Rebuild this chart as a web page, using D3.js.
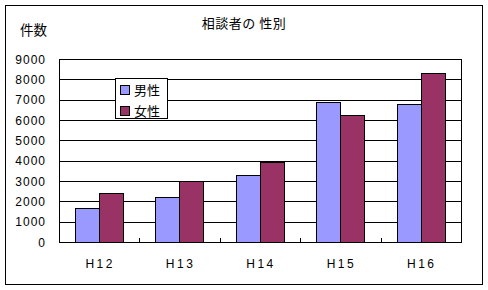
<!DOCTYPE html>
<html>
<head>
<meta charset="utf-8">
<script src="https://cdn.jsdelivr.net/npm/d3@7"></script>
<style>
  body { margin: 0; background: #fff; }
  text { font-family: "Liberation Sans", Arial, sans-serif; fill: #000; }
  .jp { font-family: "Noto Sans CJK JP", sans-serif; }
</style>
</head>
<body>
<div id="chart"></div>
<script>
// data
const years = ["H12", "H13", "H14", "H15", "H16"];
const male = [1650, 2200, 3280, 6870, 6770];
const female = [2400, 3000, 3950, 6230, 8300];
const seriesNames = ["男性", "女性"];
const colors = ["#9999ff", "#993366"];
const yTicks = [0, 1000, 2000, 3000, 4000, 5000, 6000, 7000, 8000, 9000];

const W = 488, H = 290;
const margin = {top: 59, right: 27, bottom: 48, left: 59};
const width = W - margin.left - margin.right;
const height = H - margin.top - margin.bottom;

const svg = d3.select("#chart").append("svg")
    .attr("width", W)
    .attr("height", H);

// outer frame
svg.append("rect")
    .attr("x", 5.5).attr("y", 5.5)
    .attr("width", 477).attr("height", 279)
    .attr("fill", "#fff")
    .attr("stroke", "#000");

const g = svg.append("g")
    .attr("transform", "translate(" + margin.left + "," + margin.top + ")");

// scales
const x = d3.scaleBand().domain(years).range([0, width]).padding(0);
const x1 = d3.scaleBand().domain(seriesNames).range([0, x.bandwidth()]).paddingInner(0).paddingOuter(0.667);
const y = d3.scaleLinear().domain([0, 9000]).range([height, 0]);

// gridlines
g.selectAll(".grid")
    .data(yTicks.slice(1))
    .enter().append("line")
    .attr("x1", 0).attr("x2", width)
    .attr("y1", d => Math.round(y(d)) + 0.5)
    .attr("y2", d => Math.round(y(d)) + 0.5)
    .attr("stroke", "#000");

// bars
const rows = years.map((yr, i) => ({year: yr, values: [male[i], female[i]]}));
const grp = g.selectAll(".grp")
    .data(rows)
    .enter().append("g")
    .attr("transform", d => "translate(" + Math.round(x(d.year)) + ",0)");

grp.selectAll("rect")
    .data(d => d.values.map((v, j) => ({name: seriesNames[j], value: v, j: j})))
    .enter().append("rect")
    .attr("x", d => Math.round(x1(d.name)) + 0.5)
    .attr("y", d => Math.round(y(d.value)) + 0.5)
    .attr("width", Math.round(x1.bandwidth()))
    .attr("height", d => Math.round(height - y(d.value)))
    .attr("fill", d => colors[d.j])
    .attr("stroke", "#000");

// plot frame
g.append("rect")
    .attr("x", 0.5).attr("y", 0.5)
    .attr("width", width).attr("height", height)
    .attr("fill", "none")
    .attr("stroke", "#000");

// x axis ticks (inside)
g.selectAll(".xtick")
    .data(years.slice(1))
    .enter().append("line")
    .attr("x1", d => Math.round(x(d)) + 0.5)
    .attr("x2", d => Math.round(x(d)) + 0.5)
    .attr("y1", height - 4)
    .attr("y2", height)
    .attr("stroke", "#000");

// x labels
g.selectAll(".xlabel")
    .data(years)
    .enter().append("text")
    .attr("x", d => x(d) + x.bandwidth() / 2 + 1)
    .attr("y", height + 26)
    .attr("text-anchor", "middle")
    .attr("font-size", 12)
    .attr("letter-spacing", 2.5)
    .text(d => d);

// y labels
g.selectAll(".ylabel")
    .data(yTicks)
    .enter().append("text")
    .attr("x", -13)
    .attr("y", d => y(d) + 4.5)
    .attr("text-anchor", "end")
    .attr("font-size", 12)
    .attr("letter-spacing", 1)
    .text(d => d);

// title
svg.append("text")
    .attr("class", "jp")
    .attr("x", 244)
    .attr("y", 28)
    .attr("text-anchor", "middle")
    .attr("font-size", 13)
    .attr("letter-spacing", 0.5)
    .text("相談者の 性別");

// y axis title
svg.append("text")
    .attr("class", "jp")
    .attr("x", 20)
    .attr("y", 35)
    .attr("font-size", 13.5)
    .text("件数");

// legend
const legend = svg.append("g").attr("transform", "translate(115,78)");
legend.append("rect")
    .attr("x", 0.5).attr("y", 0.5)
    .attr("width", 52).attr("height", 40)
    .attr("fill", "#fff")
    .attr("stroke", "#000");

seriesNames.forEach((name, i) => {
    legend.append("rect")
        .attr("x", 5.5).attr("y", 7.5 + i * 21)
        .attr("width", 9).attr("height", 9)
        .attr("fill", colors[i])
        .attr("stroke", "#000");
    legend.append("text")
        .attr("class", "jp")
        .attr("x", 19)
        .attr("y", 17 + i * 21)
        .attr("font-size", 13)
        .text(name);
});
</script>
</body>
</html>
